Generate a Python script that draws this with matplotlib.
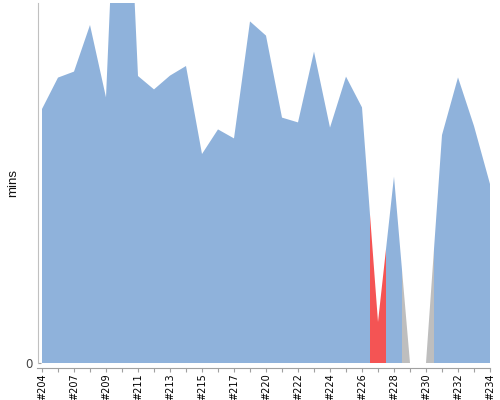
import matplotlib
matplotlib.use("Agg")
import matplotlib.pyplot as plt
import numpy as np

builds = ["#204", "#206", "#207", "#208", "#209", "#210", "#211", "#212", "#213",
          "#214", "#215", "#216", "#217", "#219", "#220", "#221", "#222", "#223",
          "#224", "#225", "#226", "#227", "#228", "#229", "#230", "#231", "#232",
          "#233", "#234"]
durations = [12.7, 14.27, 14.57, 16.9, 13.28, 32.0, 14.35, 13.68, 14.37,
             14.85, 10.45, 11.68, 11.23, 17.08, 16.37, 12.27, 12.03, 15.57,
             11.77, 14.32, 12.78, 2.05, 9.32, 0.0, 0.0, 11.4, 14.28,
             11.85, 8.95]
status = ["ok"] * 21 + ["fail", "ok", "abort", "abort"] + ["ok"] * 4
colors = {"ok": "#8fb2db", "fail": "#f45454", "abort": "#bebebe"}
y_max = 18

plt.rcParams['font.family'] = ['Liberation Sans', 'DejaVu Sans']
fig = plt.figure(figsize=(5, 4), dpi=100)
ax = fig.add_axes([42/500, 37/400, 448/500, 360/400])

xs = np.arange(len(builds))
ys = np.array(durations)
n = len(builds)
for i, st in enumerate(status):
    lo = max(i - 0.5, 0)
    hi = min(i + 0.5, n - 1)
    seg_x = np.array([lo, i, hi])
    seg_y = np.interp(seg_x, xs, ys)
    ax.fill_between(seg_x, 0, seg_y, facecolor=colors[st], linewidth=0)

ax.set_xlim(0, n - 1)
ax.set_ylim(0, y_max)

for s in ["top", "right"]:
    ax.spines[s].set_visible(False)
ax.spines["left"].set_position(("outward", 2.9))
ax.spines["bottom"].set_position(("outward", 3.6))
ax.spines["left"].set_color("#c0c0c0")
ax.spines["bottom"].set_color("#a0a0a0")
ax.spines["bottom"].set_bounds(-0.3, n - 1)

ax.set_xticks(xs)
ax.set_xticklabels([b if i % 2 == 0 else "" for i, b in enumerate(builds)])
ax.set_yticks([0])
ax.set_yticklabels(["0"])
ax.tick_params(axis="x", length=3, color="#a0a0a0", pad=1.0, labelrotation=90,
               labelsize=7, labelcolor="#000000", labelfontfamily="DejaVu Sans")
ax.tick_params(axis="y", direction="in", length=2.5, color="#a0a0a0", pad=3.6,
               labelsize=8.5, labelcolor="#444444", labelfontfamily="DejaVu Sans")

ax.set_ylabel("mins", fontsize=9.5, color="#111111")
ax.yaxis.set_label_coords(-0.05, 0.5)

fig.savefig("out.png", dpi=100)
